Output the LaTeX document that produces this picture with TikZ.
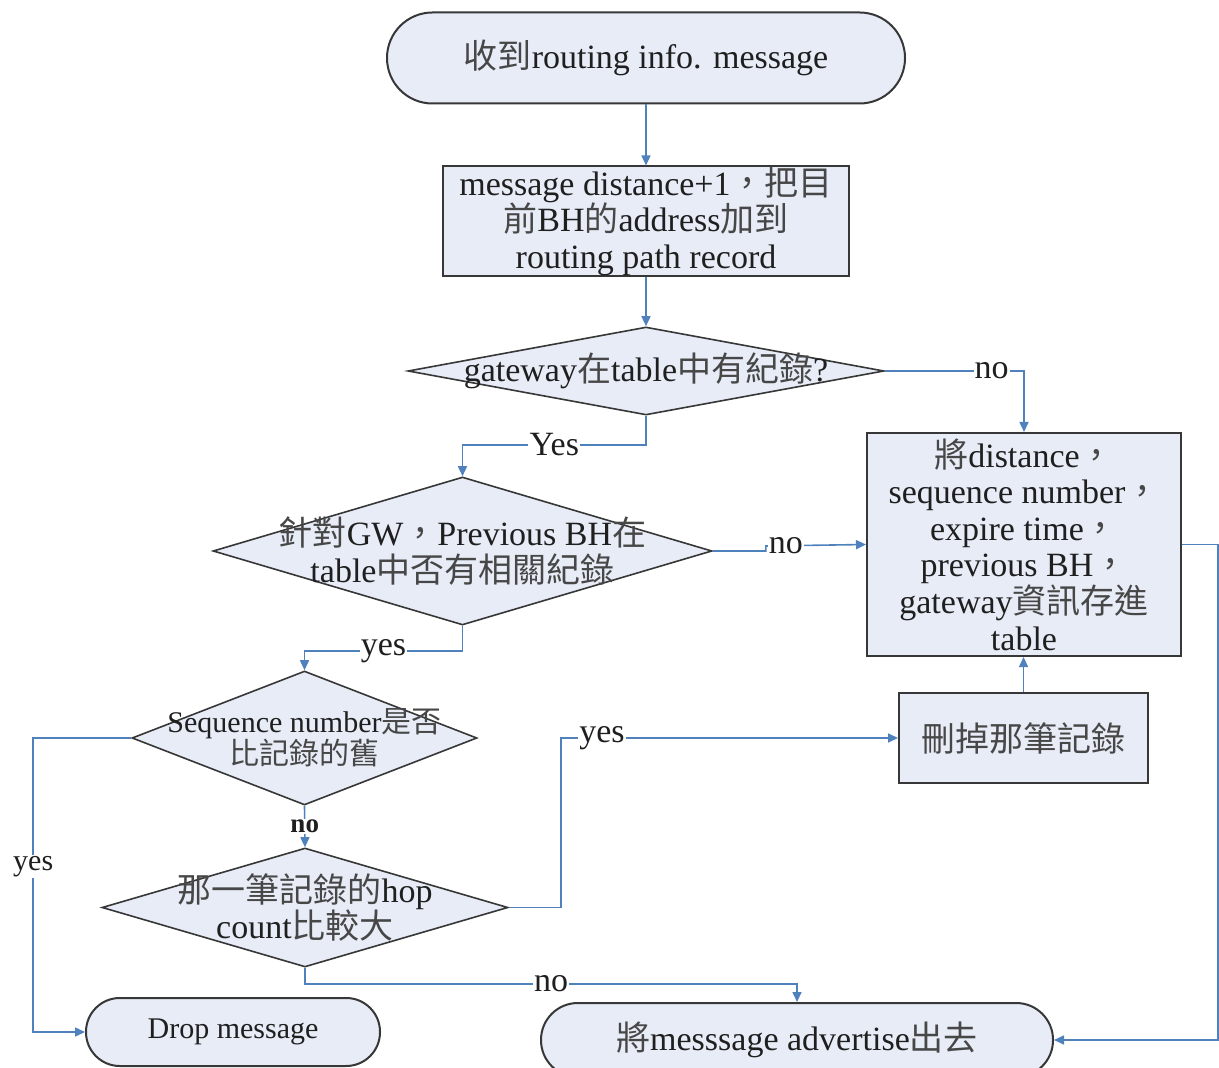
\documentclass[tikz,border=0pt]{standalone}
\usepackage{fontspec}
\setmainfont{Liberation Serif}
\newfontfamily\cjkfont{Noto Sans CJK TC}
\usetikzlibrary{shapes.geometric,arrows.meta}
\newcommand\zh[1]{{\cjkfont\color{black!72}#1}}
\definecolor{boxfill}{RGB}{231,236,247}
\definecolor{boxline}{RGB}{55,55,55}
\definecolor{flow}{RGB}{79,129,189}
\begin{document}
\begin{tikzpicture}[x=0.5pt,y=-0.5pt,
  every node/.style={text=black!88},
  big/.style={font=\fontsize{17}{18.3}\selectfont},
  small/.style={font=\fontsize{15}{16}\selectfont},
  term/.style={draw=boxline, fill=boxfill, line width=1pt, inner sep=0pt, align=center, big},
  proc/.style={draw=boxline, fill=boxfill, line width=1pt, inner sep=0pt, align=center, big},
  dec/.style={diamond, draw=boxline, fill=boxfill, line width=0.8pt, inner sep=0pt},
  txt/.style={align=center, inner sep=0pt, big},
  conn/.style={draw=flow, line width=0.8pt, -{Triangle[length=5pt,width=4.5pt]}},
  lbl/.style={fill=white, inner sep=0.6pt, big}
]
\useasboundingbox (0,0) rectangle (1219,1068);

% ---- nodes ----
\node[term, minimum width=259pt, minimum height=45.5pt, rounded corners=22.7pt] (start) at (646,58)
  {\zh{收到}routing info. message};

\node[proc, minimum width=203pt, minimum height=54pt] (rec) at (646,221)
  {message distance+1\zh{，把目}\\\zh{前}BH\zh{的}address\zh{加到}\\routing path record};

\node[dec, minimum width=238pt, minimum height=44pt,
  label={[txt]center:{gateway\zh{在}table\zh{中有紀錄}?}}] (gw) at (646,371) {};

\node[dec, minimum width=249.5pt, minimum height=74pt,
  label={[txt]center:{\zh{針對}GW\zh{，}Previous BH\zh{在}\\table\zh{中否有相關紀錄}}}] (prev) at (462.5,551) {};

\node[proc, minimum width=157pt, minimum height=111.5pt] (store) at (1024,544.5)
  {\zh{將}distance\zh{，}\\sequence number\zh{，}\\expire time\zh{，}\\previous BH\zh{，}\\gateway\zh{資訊存進}\\table};

\node[dec, minimum width=172.5pt, minimum height=67pt,
  label={[txt,small]center:{Sequence number\zh{是否}\\\zh{比記錄的舊}}}] (seq) at (304.5,738) {};

\node[proc, minimum width=124.5pt, minimum height=45pt] (del) at (1023.5,738)
  {\zh{刪掉那筆記錄}};

\node[dec, minimum width=203pt, minimum height=59.5pt,
  label={[txt]center:{\zh{那一筆記錄的}hop\\count\zh{比較大}}}] (hop) at (305,907.5) {};

\node[term, small, minimum width=147pt, minimum height=34pt, rounded corners=16.9pt] (drop) at (233,1032)
  {Drop message};

\node[term, minimum width=256pt, minimum height=37pt, rounded corners=18.4pt] (adv) at (797,1040)
  {\zh{將}messsage advertise\zh{出去}};

% ---- connectors ----
\draw[conn] (start) -- (rec);
\draw[conn] (rec) -- (gw);
\draw[conn] (gw.east) -| node[lbl,pos=0.384]{no} (store.north);
\draw[conn] (gw.south) -- ++(0,29) -| node[lbl,pos=0.25]{Yes} (prev.north);
\draw[conn] (prev.east) -- ++(53,0) -- ++(0,-5) -- node[lbl,pos=0.2]{no} (store.west);
\draw[conn] (prev.south) -- ++(0,25) -| node[lbl,pos=0.25]{yes} (seq.north);
\draw[conn] (seq.west) -- ++(-98,0) |- node[lbl,small,pos=0.218]{yes} (drop.west);
\draw[conn] (seq.south) -- node[lbl,font=\fontsize{13.5}{15}\selectfont\bfseries]{no} (hop.north);
\draw[conn] (hop.east) -- ++(52,0) |- node[lbl,pos=0.561]{yes} (del.west);
\draw[conn] (hop.south) -- ++(0,16) -| node[lbl,pos=0.25]{no} (adv.north);
\draw[conn] (del.north) -- (del.north |- store.south);
\draw[conn] (store.east) -- ++(36,0) |- (adv.east);
\end{tikzpicture}
\end{document}
